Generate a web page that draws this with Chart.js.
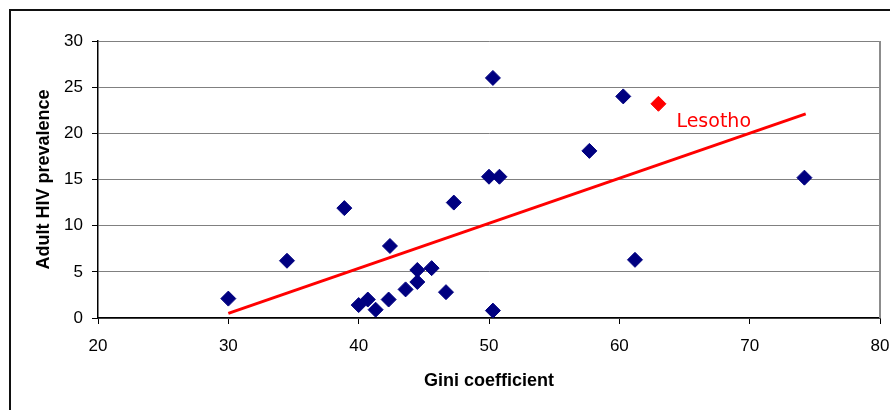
<!DOCTYPE html>
<html>
<head>
<meta charset="utf-8">
<script src="https://cdn.jsdelivr.net/npm/chart.js@4.4.1/dist/chart.umd.min.js"></script>
<style>
    html, body { margin: 0; padding: 0; background: #fff; overflow: hidden; }
    .frame { position: absolute; left: 9px; top: 9px; width: 1000px; height: 1000px; border: 2px solid #111; }
    .chart-box { position: absolute; left: 0; top: 0; width: 890px; height: 410px; }
</style>
</head>
<body>
<div class="frame"></div>
<div class="chart-box"><canvas id="myChart" width="890" height="410"></canvas></div>
<script>
// countries: Gini coefficient vs adult HIV prevalence (%)
const giniValues = [30.0, 34.5, 38.9, 40.0, 40.7, 41.3, 42.3, 42.4, 43.6, 44.5, 44.5, 45.6, 46.7, 47.3, 50.0, 50.8, 50.3, 50.3, 57.7, 60.3, 61.2, 74.2];
const hivValues = [2.1, 6.2, 11.9, 1.4, 2.0, 0.9, 2.0, 7.8, 3.1, 5.2, 3.9, 5.4, 2.8, 12.5, 15.3, 15.3, 26.0, 0.8, 18.1, 24.0, 6.3, 15.2];

const lesothoGini = [63.0];
const lesothoHiv = [23.2];
const lesothoLabel = "Lesotho";

// trend line end points
const trendGini = [30, 74.3];
const trendHiv = [0.5, 22.1];

const xTicks = [20, 30, 40, 50, 60, 70, 80];
const yTicks = [0, 5, 10, 15, 20, 25, 30];

const toPoints = (xs, ys) => xs.map((x, i) => ({ x: x, y: ys[i] }));

// gray border round the plot area and the Lesotho label
const plotExtras = {
    id: "plotExtras",
    beforeDatasetsDraw(chart) {
        const { ctx, chartArea } = chart;
        ctx.save();
        ctx.strokeStyle = "#8c8c8c";
        ctx.lineWidth = 2;
        ctx.beginPath();
        ctx.moveTo(chartArea.right, chartArea.top);
        ctx.lineTo(chartArea.right, chartArea.bottom);
        ctx.stroke();
        ctx.restore();
    },
    afterDatasetsDraw(chart) {
        const { ctx, scales } = chart;
        const px = scales.x.getPixelForValue(lesothoGini[0]);
        const py = scales.y.getPixelForValue(lesothoHiv[0]);
        ctx.save();
        ctx.fillStyle = "#ff0000";
        ctx.font = "19px 'DejaVu Sans'";
        ctx.textBaseline = "alphabetic";
        ctx.fillText(lesothoLabel, px + 18, py + 23);
        ctx.restore();
    }
};

const ctx = document.getElementById("myChart").getContext("2d");
const myChart = new Chart(ctx, {
    type: "scatter",
    data: {
        datasets: [
            {
                type: "line",
                data: toPoints(trendGini, trendHiv),
                borderColor: "#ff0000",
                borderWidth: 3,
                pointRadius: 0,
                fill: false,
                order: 0,
            },
            {
                data: toPoints(lesothoGini, lesothoHiv),
                pointStyle: "rectRot",
                pointRadius: 7.5,
                backgroundColor: "#ff0000",
                borderColor: "#ff0000",
                borderWidth: 1,
                order: 1,
            },
            {
                data: toPoints(giniValues, hivValues),
                pointStyle: "rectRot",
                pointRadius: 7.5,
                backgroundColor: "#000080",
                borderColor: "#000080",
                borderWidth: 1,
                order: 2,
            },
        ],
    },
    options: {
        responsive: false,
        animation: false,
        events: [],
        layout: { padding: { top: 41, right: 10, left: 0, bottom: 0 } },
        plugins: { legend: { display: false }, tooltip: { enabled: false } },
        scales: {
            x: {
                type: "linear",
                min: 20,
                max: 80,
                afterFit: (scale) => {
                    scale.height = 92;
                    scale.paddingLeft = 0;
                    scale.paddingRight = 0;
                },
                afterBuildTicks: (scale) => { scale.ticks = xTicks.map((v) => ({ value: v })); },
                ticks: { color: "#000", padding: 12, maxRotation: 0, font: { family: "'Liberation Sans'", size: 17 } },
                grid: { drawOnChartArea: false, drawTicks: true, tickLength: 6, tickColor: "#000" },
                border: { display: true, color: "#000", width: 1.5 },
                title: {
                    display: true,
                    text: "Gini coefficient",
                    color: "#000",
                    font: { family: "'Liberation Sans'", size: 18, weight: "bold" },
                    padding: { top: 0, bottom: 18 },
                },
            },
            y: {
                type: "linear",
                min: 0,
                max: 30,
                afterFit: (scale) => {
                    scale.width = 98;
                    scale.paddingTop = 0;
                    scale.paddingBottom = 0;
                },
                afterBuildTicks: (scale) => { scale.ticks = yTicks.map((v) => ({ value: v })); },
                ticks: { color: "#000", padding: 9, font: { family: "'Liberation Sans'", size: 17 } },
                grid: { color: "#808080", lineWidth: 1, drawTicks: true, tickLength: 6, tickColor: "#000" },
                border: { display: true, color: "#000", width: 1.5 },
                title: {
                    display: true,
                    text: "Adult HIV prevalence",
                    color: "#000",
                    font: { family: "'Liberation Sans'", size: 18, weight: "bold" },
                    padding: { top: 33, bottom: 0 },
                },
            },
        },
    },
    plugins: [plotExtras],
});
</script>
</body>
</html>
